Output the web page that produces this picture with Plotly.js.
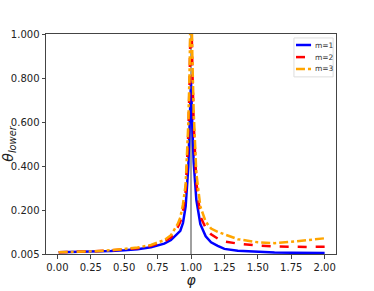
<!DOCTYPE html>
<html><head><meta charset="utf-8">
<script src="https://cdn.plot.ly/plotly-3.0.1.min.js"></script>
<style>html,body{margin:0;padding:0;background:#fff}#c{width:374px;height:291px}</style>
</head><body><div id="c"></div>
<script>
const phi = [0.01,0.1,0.25,0.4,0.5,0.6,0.7,0.75,0.8,0.85,0.9,0.92,0.94,0.96,0.98,0.99,1.0,1.01,1.02,1.04,1.07,1.11,1.15,1.2,1.25,1.35,1.5,1.625,1.75,1.875,2.0];
const m1 = [0.013,0.014,0.016,0.019,0.022,0.027,0.036,0.043,0.052,0.068,0.095,0.110,0.145,0.22,0.40,0.58,0.785,0.58,0.42,0.25,0.140,0.085,0.058,0.042,0.028,0.020,0.015,0.012,0.011,0.010,0.0095];
const m2 = [0.013,0.014,0.017,0.021,0.025,0.031,0.042,0.052,0.062,0.080,0.125,0.150,0.20,0.29,0.55,0.80,1.2,0.85,0.60,0.33,0.175,0.123,0.094,0.075,0.062,0.052,0.043,0.039,0.037,0.037,0.038];
const m3 = [0.013,0.014,0.017,0.022,0.027,0.034,0.046,0.056,0.068,0.090,0.14,0.17,0.23,0.32,0.60,0.85,1.3,0.90,0.65,0.37,0.22,0.151,0.12,0.105,0.094,0.072,0.058,0.054,0.060,0.067,0.076];
const names = ['m=1','m=2','m=3'];
const colors = ['#0000ff','#ff0000','#ffa500'];
const dashes = ['solid','dash','dashdot'];
const series = [m1, m2, m3];
const xTicks = [0,0.25,0.5,0.75,1.0,1.25,1.5,1.75,2.0];
const yTicks = [0.005,0.2,0.4,0.6,0.8,1.0];
const vline = 1.0;

const traces = series.map((s,i)=>({x: phi, y: s, name: names[i], mode:'lines', showlegend:false,
  line:{color:colors[i], width:2.5, dash:dashes[i]}}));

// custom compact legend (matplotlib-style)
const legY = [0.95, 0.895, 0.841];
const shapes = [
  {type:'line', xref:'x', yref:'paper', x0:vline, x1:vline, y0:0, y1:1, line:{color:'#808080', width:1.5}, layer:'below'},
  {type:'rect', xref:'paper', yref:'paper', x0:0.855, x1:0.99, y0:0.805, y1:0.982, line:{color:'#dddddd', width:1}, fillcolor:'rgba(255,255,255,0.85)'}
];
const annotations = [];
names.forEach((n,i)=>{
  shapes.push({type:'line', xref:'paper', yref:'paper', x0:0.862, x1:0.914, y0:legY[i], y1:legY[i], line:{color:colors[i], width:2.5, dash:dashes[i]}});
  annotations.push({xref:'paper', yref:'paper', x:0.922, y:legY[i], xanchor:'left', yanchor:'middle', text:n, showarrow:false, font:{family:'DejaVu Sans', size:7.5, color:'#333'}});
});

const axisCommon = {showline:true, mirror:true, linecolor:'#444', linewidth:1, ticks:'outside', ticklen:3.5, tickcolor:'#444', showgrid:false, zeroline:false, tickfont:{family:'DejaVu Sans', size:10, color:'#222'}};
const layout = {
  width:374, height:291,
  margin:{l:46, r:38, t:34, b:37},
  paper_bgcolor:'#fff', plot_bgcolor:'#fff',
  showlegend:false,
  shapes: shapes,
  annotations: annotations,
  xaxis: Object.assign({}, axisCommon, {range:[-0.085,2.085], tickvals:xTicks, ticktext:xTicks.map(v=>v.toFixed(2)),
    title:{text:'<i>φ</i>', font:{family:'DejaVu Sans', size:14, color:'#222'}, standoff:2}}),
  yaxis: Object.assign({}, axisCommon, {range:[0.005,1.0], tickvals:yTicks, ticktext:yTicks.map(v=>v.toFixed(3)),
    title:{text:'<i>θ<sub>lower</sub></i>', font:{family:'DejaVu Sans', size:14, color:'#222'}, standoff:2}})
};
Plotly.newPlot('c', traces, layout, {staticPlot:true, displayModeBar:false});
</script></body></html>
